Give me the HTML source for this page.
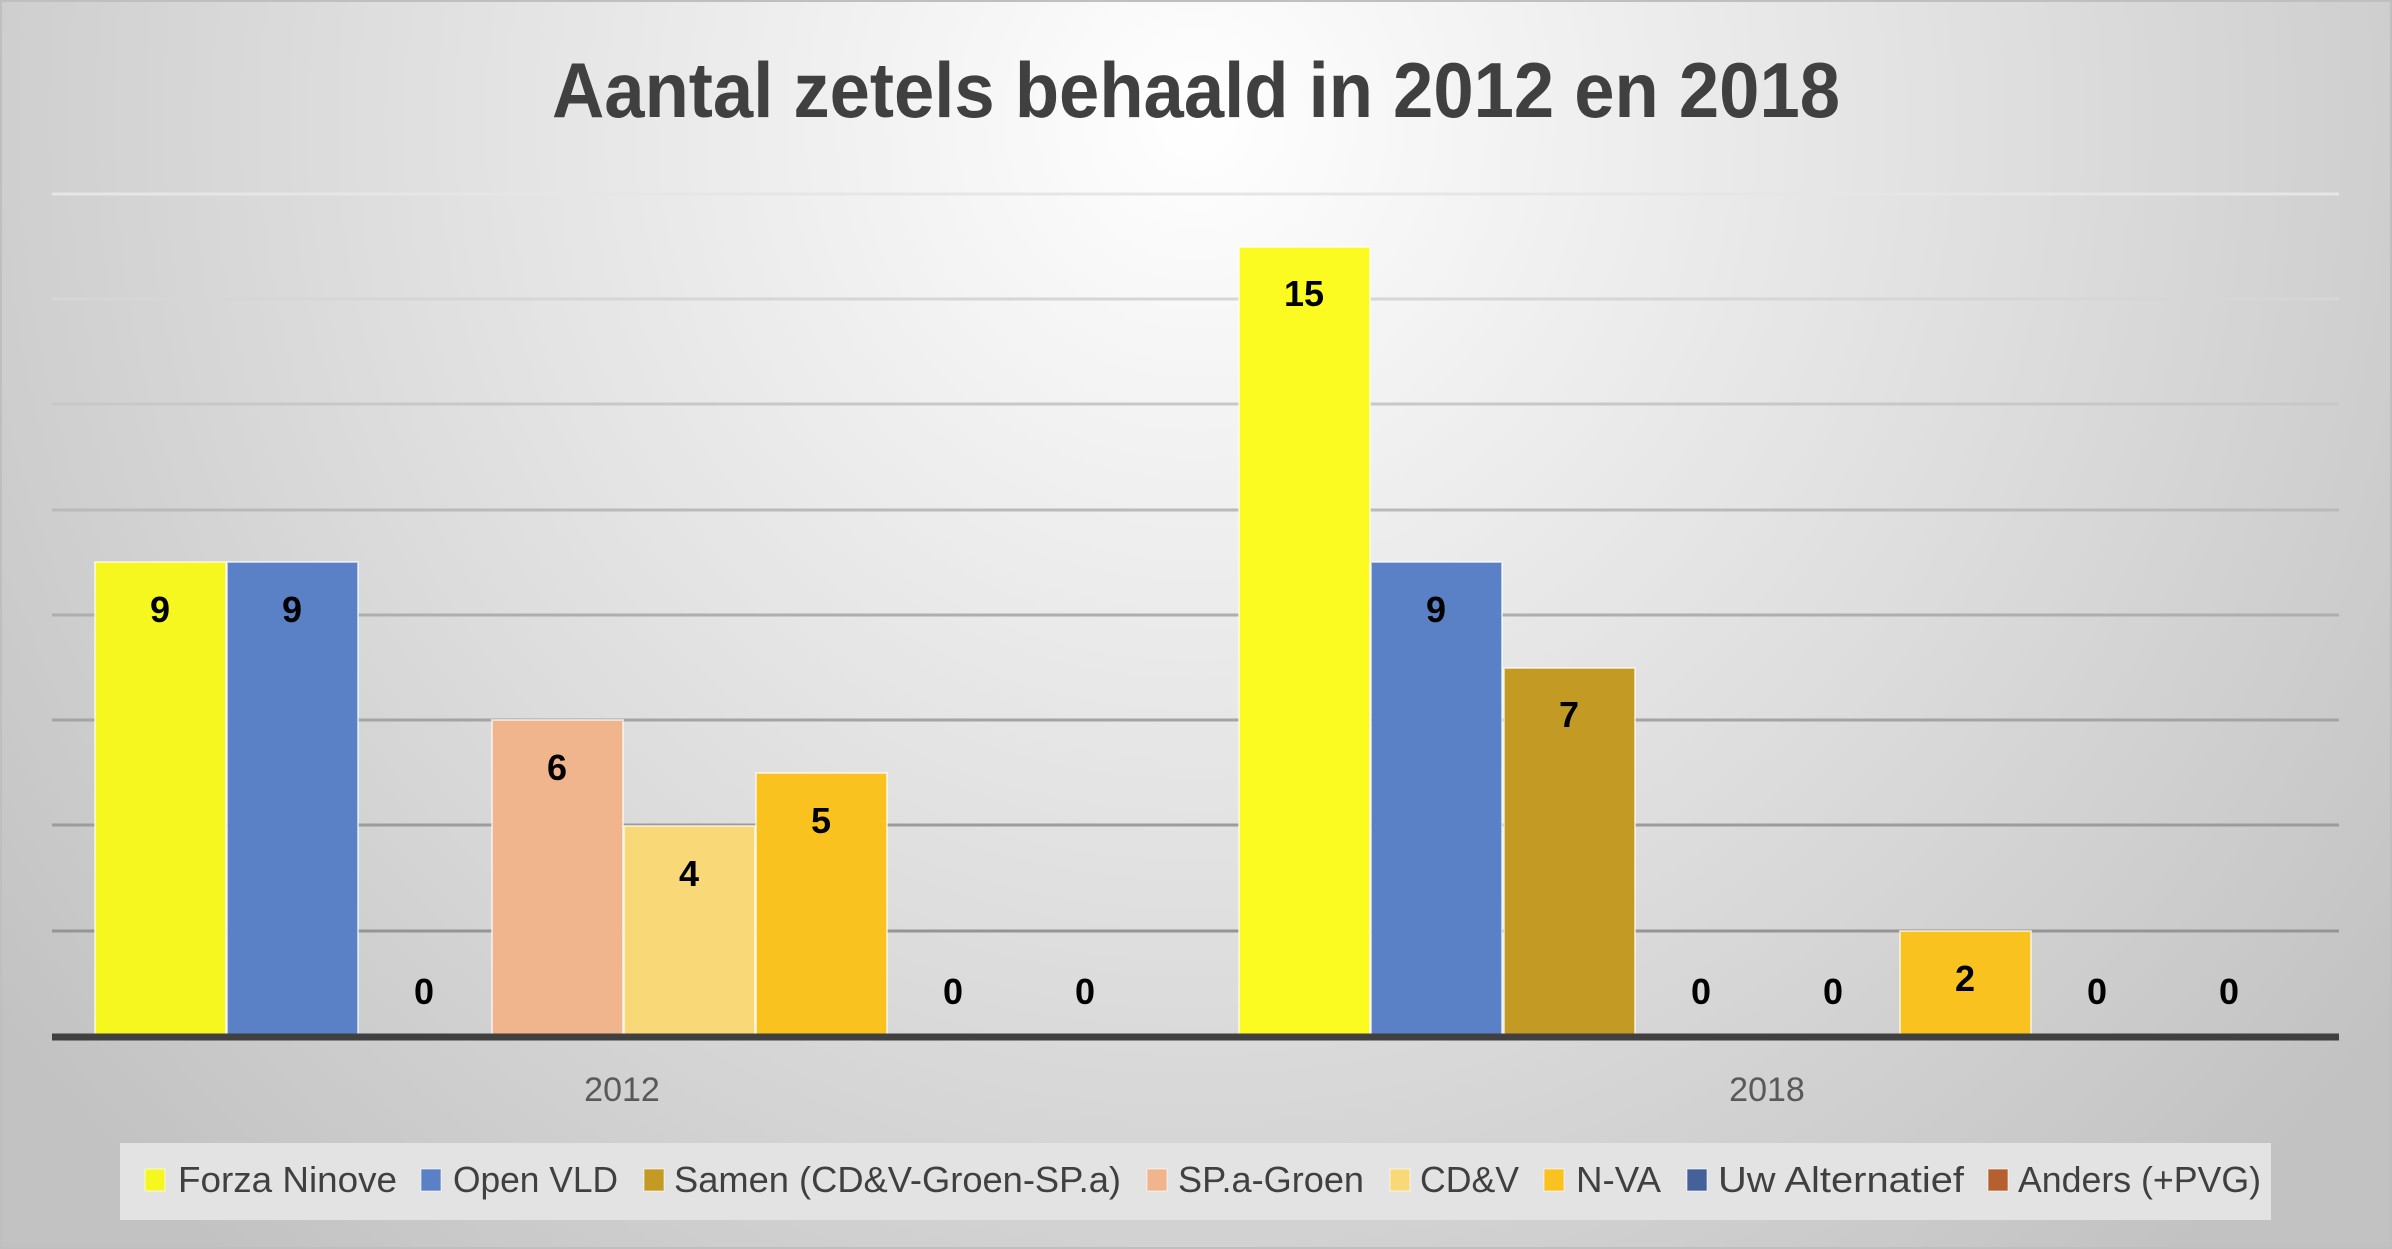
<!DOCTYPE html>
<html><head><meta charset="utf-8"><style>
html,body{margin:0;padding:0;width:2392px;height:1249px;overflow:hidden}
svg{display:block}
text{font-family:"Liberation Sans",sans-serif}
</style></head><body>
<svg width="2392" height="1249" viewBox="0 0 2392 1249" xmlns="http://www.w3.org/2000/svg">
<defs>
<radialGradient id="bg" cx="1196" cy="120" r="1500" gradientUnits="userSpaceOnUse">
<stop offset="0" stop-color="#ffffff"/>
<stop offset="0.55" stop-color="#dedede"/>
<stop offset="1" stop-color="#c2c2c2"/>
</radialGradient>
</defs>
<rect x="0" y="0" width="2392" height="1249" fill="url(#bg)"/>
<rect x="1" y="1" width="2390" height="1247" fill="none" stroke="#bfbfbf" stroke-width="2"/>
<text x="552" y="117" font-size="78" font-weight="bold" fill="#404040" textLength="1288" lengthAdjust="spacingAndGlyphs">Aantal zetels behaald in 2012 en 2018</text>
<g stroke-width="3">
<line x1="52" x2="2339" y1="194" y2="194" stroke="#e6e6e6"/>
<line x1="52" x2="2339" y1="299" y2="299" stroke="#d6d6d6"/>
<line x1="52" x2="2339" y1="404" y2="404" stroke="#c8c8c8"/>
<line x1="52" x2="2339" y1="510" y2="510" stroke="#bababa"/>
<line x1="52" x2="2339" y1="615" y2="615" stroke="#aeaeae"/>
<line x1="52" x2="2339" y1="720" y2="720" stroke="#a4a4a4"/>
<line x1="52" x2="2339" y1="825" y2="825" stroke="#9c9c9c"/>
<line x1="52" x2="2339" y1="931" y2="931" stroke="#959595"/>
</g>
<g stroke="#ffffff" stroke-opacity="0.6" stroke-width="2">
<rect x="95" y="562" width="131" height="474" fill="#f7f720"/>
<rect x="227" y="562" width="131" height="474" fill="#5a80c6"/>
<rect x="492" y="720" width="131" height="316" fill="#f0b58d"/>
<rect x="624" y="826" width="131" height="210" fill="#f9d977"/>
<rect x="756" y="773" width="131" height="263" fill="#f9c21e"/>
<rect x="1239" y="247" width="131" height="789" fill="#fbfb22"/>
<rect x="1371" y="562" width="131" height="474" fill="#5a80c6"/>
<rect x="1504" y="668" width="131" height="368" fill="#c39b24"/>
<rect x="1900" y="931" width="131" height="105" fill="#f9c21e"/>
</g>
<line x1="52" x2="2339" y1="1037" y2="1037" stroke="#404040" stroke-width="7"/>
<g font-size="36" font-weight="bold" fill="#000" text-anchor="middle">
<text x="160" y="622">9</text>
<text x="292" y="622">9</text>
<text x="424" y="1004">0</text>
<text x="557" y="780">6</text>
<text x="689" y="886">4</text>
<text x="821" y="833">5</text>
<text x="953" y="1004">0</text>
<text x="1085" y="1004">0</text>
<text x="1304" y="306">15</text>
<text x="1436" y="622">9</text>
<text x="1569" y="727">7</text>
<text x="1701" y="1004">0</text>
<text x="1833" y="1004">0</text>
<text x="1965" y="991">2</text>
<text x="2097" y="1004">0</text>
<text x="2229" y="1004">0</text>
</g>
<g font-size="34" fill="#595959" text-anchor="middle">
<text x="622" y="1101">2012</text>
<text x="1767" y="1101">2018</text>
</g>
<rect x="120" y="1143" width="2151" height="77" fill="#e3e3e3"/>
<g font-size="36" fill="#404040">
<rect x="145" y="1169" width="20" height="22" fill="#f7f720" stroke="#fff" stroke-opacity="0.6"/>
<text x="178" y="1192" textLength="219" lengthAdjust="spacingAndGlyphs">Forza Ninove</text>
<rect x="421" y="1169" width="20" height="22" fill="#5a80c6" stroke="#fff" stroke-opacity="0.6"/>
<text x="453" y="1192" textLength="165" lengthAdjust="spacingAndGlyphs">Open VLD</text>
<rect x="644" y="1169" width="20" height="22" fill="#c39b24" stroke="#fff" stroke-opacity="0.6"/>
<text x="674" y="1192" textLength="447" lengthAdjust="spacingAndGlyphs">Samen (CD&amp;V-Groen-SP.a)</text>
<rect x="1147" y="1169" width="20" height="22" fill="#f0b58d" stroke="#fff" stroke-opacity="0.6"/>
<text x="1178" y="1192" textLength="186" lengthAdjust="spacingAndGlyphs">SP.a-Groen</text>
<rect x="1390" y="1169" width="20" height="22" fill="#f9d977" stroke="#fff" stroke-opacity="0.6"/>
<text x="1420" y="1192" textLength="99" lengthAdjust="spacingAndGlyphs">CD&amp;V</text>
<rect x="1544" y="1169" width="20" height="22" fill="#f9c21e" stroke="#fff" stroke-opacity="0.6"/>
<text x="1576" y="1192" textLength="85" lengthAdjust="spacingAndGlyphs">N-VA</text>
<rect x="1687" y="1169" width="20" height="22" fill="#44619a" stroke="#fff" stroke-opacity="0.6"/>
<text x="1718" y="1192" textLength="246" lengthAdjust="spacingAndGlyphs">Uw Alternatief</text>
<rect x="1988" y="1169" width="20" height="22" fill="#b5602e" stroke="#fff" stroke-opacity="0.6"/>
<text x="2018" y="1192" textLength="243" lengthAdjust="spacingAndGlyphs">Anders (+PVG)</text>
</g>
</svg>
</body></html>
